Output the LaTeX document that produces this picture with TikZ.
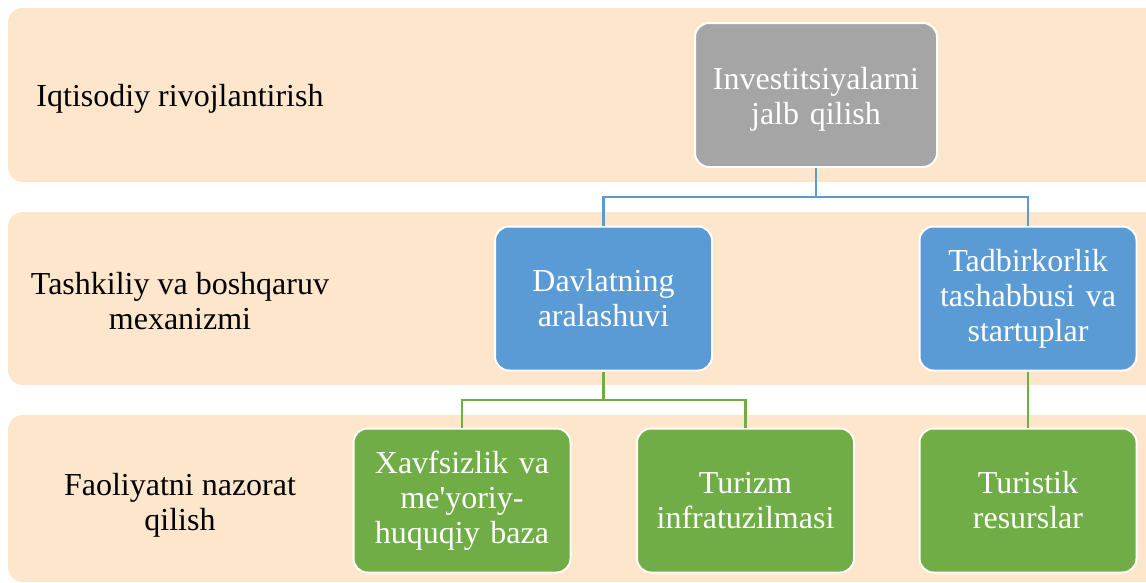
\documentclass[tikz,border=0pt]{standalone}
\usepackage{fontspec}
\setmainfont{Liberation Serif}[Ligatures=TeXOff]
\definecolor{band}{HTML}{FDE6CC}
\definecolor{boxgray}{HTML}{A5A5A5}
\definecolor{boxblue}{HTML}{5B9BD5}
\definecolor{boxgreen}{HTML}{70AD47}
\tikzset{
  bandbox/.style={fill=band, draw=none, rounded corners=15pt},
  cell/.style={draw=white, line width=2pt, rounded corners=14pt, text=white,
    align=center, font=\fontsize{32}{35}\selectfont, inner sep=0pt,
    minimum width=217pt, minimum height=144pt, text width=210pt},
  topcell/.style={cell, fill=boxgray, minimum width=242pt, text width=235pt, text height=30pt},
  bluecell/.style={cell, fill=boxblue},
  greencell/.style={cell, fill=boxgreen},
  rowlabel/.style={align=center, font=\fontsize{32}{35}\selectfont, inner sep=0pt, text=black},
  bline/.style={draw=boxblue, line width=2.5pt},
  gline/.style={draw=boxgreen, line width=2.5pt}
}
\begin{document}
\begin{tikzpicture}[x=1pt, y=-1pt]
\clip (0,0) rectangle (1146,582);
\fill[white] (0,0) rectangle (1146,582);
% bands
\path[bandbox] (8,8) rectangle (1170,182);
\path[bandbox] (8,212) rectangle (1170,385);
\path[bandbox] (8,415) rectangle (1170,582);
% row labels
\node[rowlabel] (l1) at (180,99) {Iqtisodiy rivojlantirish};
\node[rowlabel] (l2) at (180,301) {Tashkiliy va boshqaruv\\mexanizmi};
\node[rowlabel] (l3) at (180,505) {Faoliyatni nazorat\\qilish};
% boxes
\node[topcell] (top) at (816,95) {Investitsiyalarni\\jalb qilish};
\node[bluecell] (b1) at (603.5,298.5) {Davlatning\\aralashuvi};
\node[bluecell] (b2) at (1028,298.5) {Tadbirkorlik\\tashabbusi va\\startuplar};
\node[greencell] (g1) at (462,500.5) {Xavfsizlik va\\me'yoriy-\\huquqiy baza};
\node[greencell] (g2) at (745.5,500.5) {Turizm\\infratuzilmasi};
\node[greencell] (g3) at (1028,500.5) {Turistik\\resurslar};
% connectors
\coordinate (j1) at (816,197);
\coordinate (j2) at (603.5,400);
\draw[bline] (top.south) -- (j1) -| (b1.north);
\draw[bline] (j1) -| (b2.north);
\draw[gline] (b1.south) -- (j2) -| (g1.north);
\draw[gline] (j2) -| (g2.north);
\draw[gline] (b2.south) -- (g3.north);
\end{tikzpicture}
\end{document}
